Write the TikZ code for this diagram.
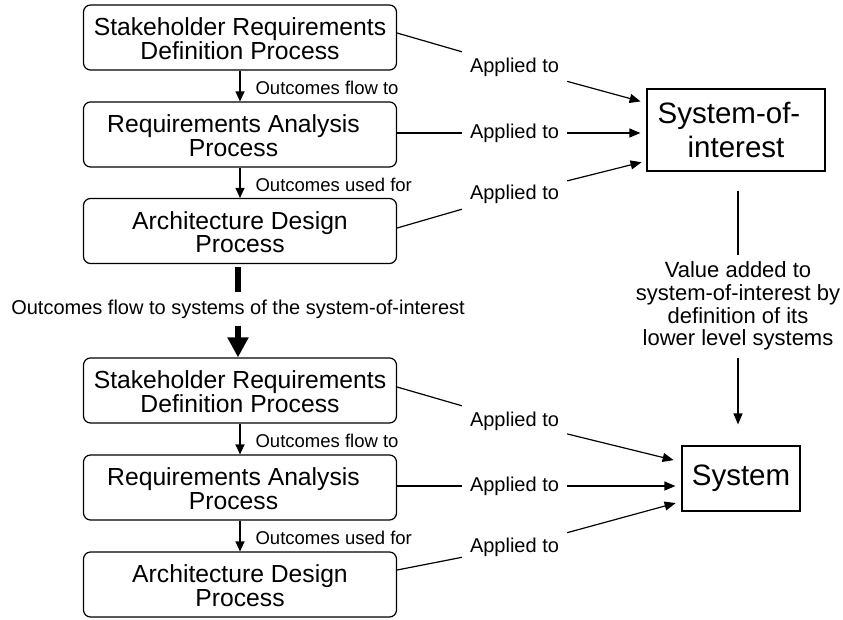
\documentclass[tikz,border=0pt]{standalone}
\usepackage{fontspec}
\setmainfont{Liberation Sans}
\usetikzlibrary{arrows.meta,calc}
\newcommand\topstrut{\rule{0pt}{25pt}}
\newcommand\botstrut{\rule[-5.3pt]{0pt}{5.3pt}}
\begin{document}
\begin{tikzpicture}[x=1pt,y=-1pt,
  proc/.style={draw, rounded corners=7pt, line width=1.2pt, minimum width=313pt, minimum height=65pt, align=center, inner sep=0pt, font=\fontsize{24.7pt}{23.3pt}\selectfont},
  sysbox/.style={draw, line width=1.2pt, align=center, inner sep=0pt},
  applab/.style={inner xsep=8pt, inner ysep=6.5pt, font=\fontsize{20pt}{22pt}\selectfont},
  flowlab/.style={font=\fontsize{18.5pt}{20pt}\selectfont, anchor=west, inner sep=0pt, xshift=15pt, yshift=-2pt},
  conn/.style={line width=1.2pt},
  arr/.style={conn, -{Triangle[length=11pt,width=9pt]}},
  varr/.style={conn, -{Triangle[length=10pt,width=9pt]}},
  thick bar/.style={line width=6pt},
]
\useasboundingbox (0,0) rectangle (843,619);

% upper chain
\node[proc] (b1) at (240,37.5) {\topstrut Stakeholder Requirements\\Definition Process\botstrut};
\node[proc] (b2) at (240,134.5) {\topstrut Requirements Analysis\hspace*{13pt}\\Process\hspace*{13pt}\botstrut};
\node[proc] (b3) at (240,231) {\topstrut Architecture Design\\Process\botstrut};
% lower chain
\node[proc] (b4) at (240,390.5) {\topstrut Stakeholder Requirements\\Definition Process\botstrut};
\node[proc] (b5) at (240,487.5) {\topstrut Requirements Analysis\hspace*{13pt}\\Process\hspace*{13pt}\botstrut};
\node[proc] (b6) at (240,584.5) {\topstrut Architecture Design\\Process\botstrut};

% systems
\node[sysbox, minimum width=178pt, minimum height=82pt, font=\fontsize{29.5pt}{34pt}\selectfont] (soi) at (736,130) {System-of-\hspace*{14pt}\\interest};
\node[sysbox, minimum width=118pt, minimum height=65pt, font=\fontsize{29.5pt}{34pt}\selectfont] (sys) at (741,478.5) {System};

% vertical flow arrows
\draw[varr] (b1) -- node[flowlab] (f1) {Outcomes flow to} (b2);
\draw[varr] (b2) -- node[flowlab] (f2) {Outcomes used for} (b3);
\draw[varr] (b4) -- node[flowlab] (f3) {Outcomes flow to} (b5);
\draw[varr] (b5) -- node[flowlab] (f4) {Outcomes used for} (b6);

% thick transition arrow
\node[inner xsep=2pt, inner ysep=7pt, font=\fontsize{20pt}{22pt}\selectfont] (mid) at (238,309) {Outcomes flow to systems of the system-of-interest};
\draw[thick bar, shorten <=3pt] (b3.south -| mid) -- (mid);
\draw[thick bar, -{Triangle[length=20pt,width=20pt]}] (mid) -- (b4.north -| mid);

% applied-to labels (upper)
\node[applab] (a1) at (514.5,67) {Applied to};
\node[applab] (a2) at (514.5,133) {Applied to};
\node[applab] (a3) at (514.5,194) {Applied to};
% applied-to labels (lower)
\node[applab] (a4) at (514.5,421) {Applied to};
\node[applab] (a5) at (514.5,486) {Applied to};
\node[applab] (a6) at (514.5,547) {Applied to};

\draw[conn] ($(b1.east)+(0,-4.5)$) -- (a1);
\draw[arr, shorten >=6pt] (a1) -- ($(soi.west)+(0,-27)$);
\draw[conn] ($(b2.east)+(0,-1.5)$) -- (a2);
\draw[arr, shorten >=6pt] (a2) -- ($(soi.west)+(0,3)$);
\draw[conn] ($(b3.east)+(0,-3)$) -- (a3);
\draw[arr, shorten >=5pt] (a3) -- ($(soi.west)+(0,31)$);

\draw[conn] ($(b4.east)+(0,-3.5)$) -- (a4);
\draw[arr, shorten >=8pt] (a4) -- ($(sys.west)+(0,-16.5)$);
\draw[conn] ($(b5.east)+(0,-1.5)$) -- (a5);
\draw[arr, shorten >=6pt] (a5) -- ($(sys.west)+(0,7.5)$);
\draw[conn] ($(b6.east)+(0,-14.5)$) -- (a6);
\draw[arr, shorten >=6pt] (a6) -- ($(sys.west)+(0,23)$);

% value added
\node[align=center, inner xsep=2pt, inner ysep=7pt, font=\fontsize{22pt}{22.7pt}\selectfont] (val) at (738,306) {Value added to\\system-of-interest by\\definition of its\\lower level systems};
\draw[conn, shorten <=19pt] (soi.south -| val) -- (val);
\draw[arr, shorten >=21pt] (val) -- (val |- sys.north);
\end{tikzpicture}
\end{document}
